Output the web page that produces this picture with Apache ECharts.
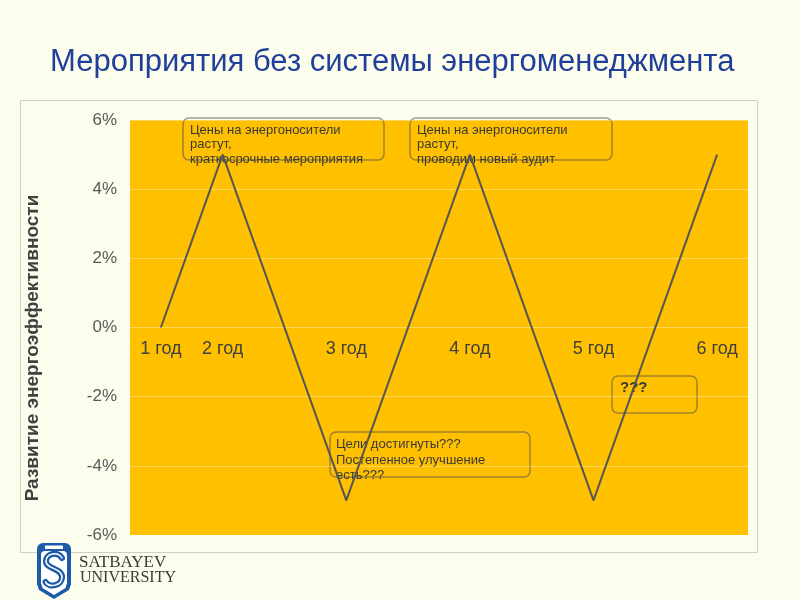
<!DOCTYPE html>
<html><head><meta charset="utf-8">
<script src="https://cdn.jsdelivr.net/npm/echarts@6/dist/echarts.min.js"></script>
<style>html,body{margin:0;padding:0;background:#fdfdee;}#c{width:800px;height:600px;}</style>
</head><body><div id="c"></div>
<script>
// Data
const yearLabels = ['1 год','2 год','3 год','4 год','5 год','6 год'];
const yearPos = [1, 2, 4, 6, 8, 10];          // position on the time axis (half-year units)
const efficiency = [0, 5, -5, 5, -5, 5];       // % change
const yTicks = [-6, -4, -2, 0, 2, 4, 6];
const yAxisTitle = 'Развитие энергоэффективности';

const chart = echarts.init(document.getElementById('c'));
const FONT = '"Liberation Sans", Arial, sans-serif';
const SERIF = '"Liberation Serif", "DejaVu Serif", serif';
const BLUE = '#1b5ba8';
const GRID_TOP = 120, GRID_BOTTOM = 65, H = 600;
const plotH = H - GRID_TOP - GRID_BOTTOM;
// distance from the bottom of the plot to the y = 0 line
const zeroOffset = plotH * (0 - yTicks[0]) / (yTicks[yTicks.length - 1] - yTicks[0]);

function sCurves(stroke, w) {
  return [
    { type: 'bezierCurve', shape: { x1: 62, y1: 558, cpx1: 58, cpy1: 551, cpx2: 46, cpy2: 553, x2: 46, y2: 561.5 },
      style: { stroke: stroke, lineWidth: w, fill: 'none', lineCap: 'round' } },
    { type: 'bezierCurve', shape: { x1: 46, y1: 561.5, cpx1: 46, cpy1: 569, cpx2: 62, cpy2: 568, x2: 62, y2: 577 },
      style: { stroke: stroke, lineWidth: w, fill: 'none', lineCap: 'round' } },
    { type: 'bezierCurve', shape: { x1: 62, y1: 577, cpx1: 62, cpy1: 586, cpx2: 49, cpy2: 588, x2: 45.5, y2: 582 },
      style: { stroke: stroke, lineWidth: w, fill: 'none', lineCap: 'round' } }
  ];
}
const boxStyle = { fill: 'rgba(0,0,0,0)', stroke: 'rgba(80,80,80,0.55)', lineWidth: 1.5 };

const option = {
  backgroundColor: '#fdfdee',
  animation: false,
  title: {
    text: 'Мероприятия без системы энергоменеджмента',
    left: 45, top: 42,
    textStyle: { color: '#1f3f9a', fontSize: 31, fontWeight: 'normal', fontFamily: FONT }
  },
  grid: { left: 130, right: 52, top: GRID_TOP, bottom: GRID_BOTTOM, show: true, backgroundColor: '#ffc000', borderWidth: 0 },
  xAxis: {
    type: 'value', min: 0.5, max: 10.5, interval: 0.5,
    position: 'bottom', offset: -zeroOffset,
    axisLine: { show: false, onZero: false },
    axisTick: { show: false },
    splitLine: { show: false },
    axisLabel: {
      margin: 13, color: '#404040', fontSize: 18, fontFamily: FONT, showMinLabel: true, showMaxLabel: true,
      formatter: function (v) {
        const i = yearPos.findIndex(p => Math.abs(p - v) < 1e-6);
        return i >= 0 ? yearLabels[i] : '';
      }
    }
  },
  yAxis: {
    type: 'value', min: yTicks[0], max: yTicks[yTicks.length - 1], interval: 2,
    axisLine: { show: false, onZero: false }, axisTick: { show: false },
    axisLabel: { margin: 13, color: '#595959', fontSize: 17, fontFamily: FONT, formatter: '{value}%' },
    splitLine: { lineStyle: { color: 'rgba(255,255,255,0.35)', width: 1 } }
  },
  series: [{
    type: 'line',
    data: yearPos.map((p, i) => [p, efficiency[i]]),
    symbol: 'none',
    lineStyle: { color: '#555555', width: 2 },
    z: 3
  }],
  graphic: [
    { type: 'rect', z: -10, silent: true, shape: { x: 20.5, y: 100.5, width: 737, height: 452 },
      style: { fill: 'rgba(0,0,0,0)', stroke: '#cfcfc2', lineWidth: 1 } },
    { type: 'text', x: 33, y: 348, rotation: Math.PI / 2,
      style: { text: yAxisTitle, fill: '#404040', font: 'bold 19px ' + FONT, align: 'center', verticalAlign: 'middle' } },
    // annotation boxes
    { type: 'rect', shape: { x: 183, y: 118, width: 201, height: 42, r: 6 }, style: boxStyle },
    { type: 'text', x: 190, y: 123, style: { text: 'Цены на энергоносители\nрастут,\nкраткосрочные мероприятия', fill: '#3a3a3a', font: '13px ' + FONT, lineHeight: 14.5 } },
    { type: 'rect', shape: { x: 410, y: 118, width: 202, height: 42, r: 6 }, style: boxStyle },
    { type: 'text', x: 417, y: 123, style: { text: 'Цены на энергоносители\nрастут,\nпроводим новый аудит', fill: '#3a3a3a', font: '13px ' + FONT, lineHeight: 14.5 } },
    { type: 'rect', shape: { x: 330, y: 432, width: 200, height: 45, r: 6 }, style: boxStyle },
    { type: 'text', x: 336, y: 437, style: { text: 'Цели достигнуты???\nПостепенное улучшение\nесть???', fill: '#3a3a3a', font: '13px ' + FONT, lineHeight: 15.5 } },
    { type: 'rect', shape: { x: 612, y: 376, width: 85, height: 37, r: 6 }, style: boxStyle },
    { type: 'text', x: 620, y: 380, style: { text: '???', fill: '#3a3a3a', font: 'bold 15px ' + FONT } },
    // logo: shield
    { type: 'rect', shape: { x: 37, y: 543, width: 34, height: 42, r: [6, 6, 0, 0] }, style: { fill: BLUE } },
    { type: 'polygon', shape: { points: [[37, 584], [71, 584], [69, 590], [54, 599], [39, 590]] }, style: { fill: BLUE } },
    { type: 'rect', shape: { x: 41, y: 551, width: 26, height: 33, r: [4, 4, 0, 0] }, style: { fill: '#ffffff' } },
    { type: 'polygon', shape: { points: [[41, 583], [67, 583], [65.5, 588], [54, 595], [42.5, 588]] }, style: { fill: '#ffffff' } },
    { type: 'rect', shape: { x: 45, y: 545.5, width: 18, height: 3.5 }, style: { fill: '#ffffff' } }
  ].concat(sCurves(BLUE, 6), sCurves('#ffffff', 1.5), [
    { type: 'text', x: 79, y: 554, style: { text: 'SATBAYEV', fill: '#3a3a3a', font: '17px ' + SERIF } },
    { type: 'text', x: 80, y: 570, style: { text: 'UNIVERSITY', fill: '#3a3a3a', font: '16px ' + SERIF } }
  ])
};
chart.setOption(option);
</script></body></html>
